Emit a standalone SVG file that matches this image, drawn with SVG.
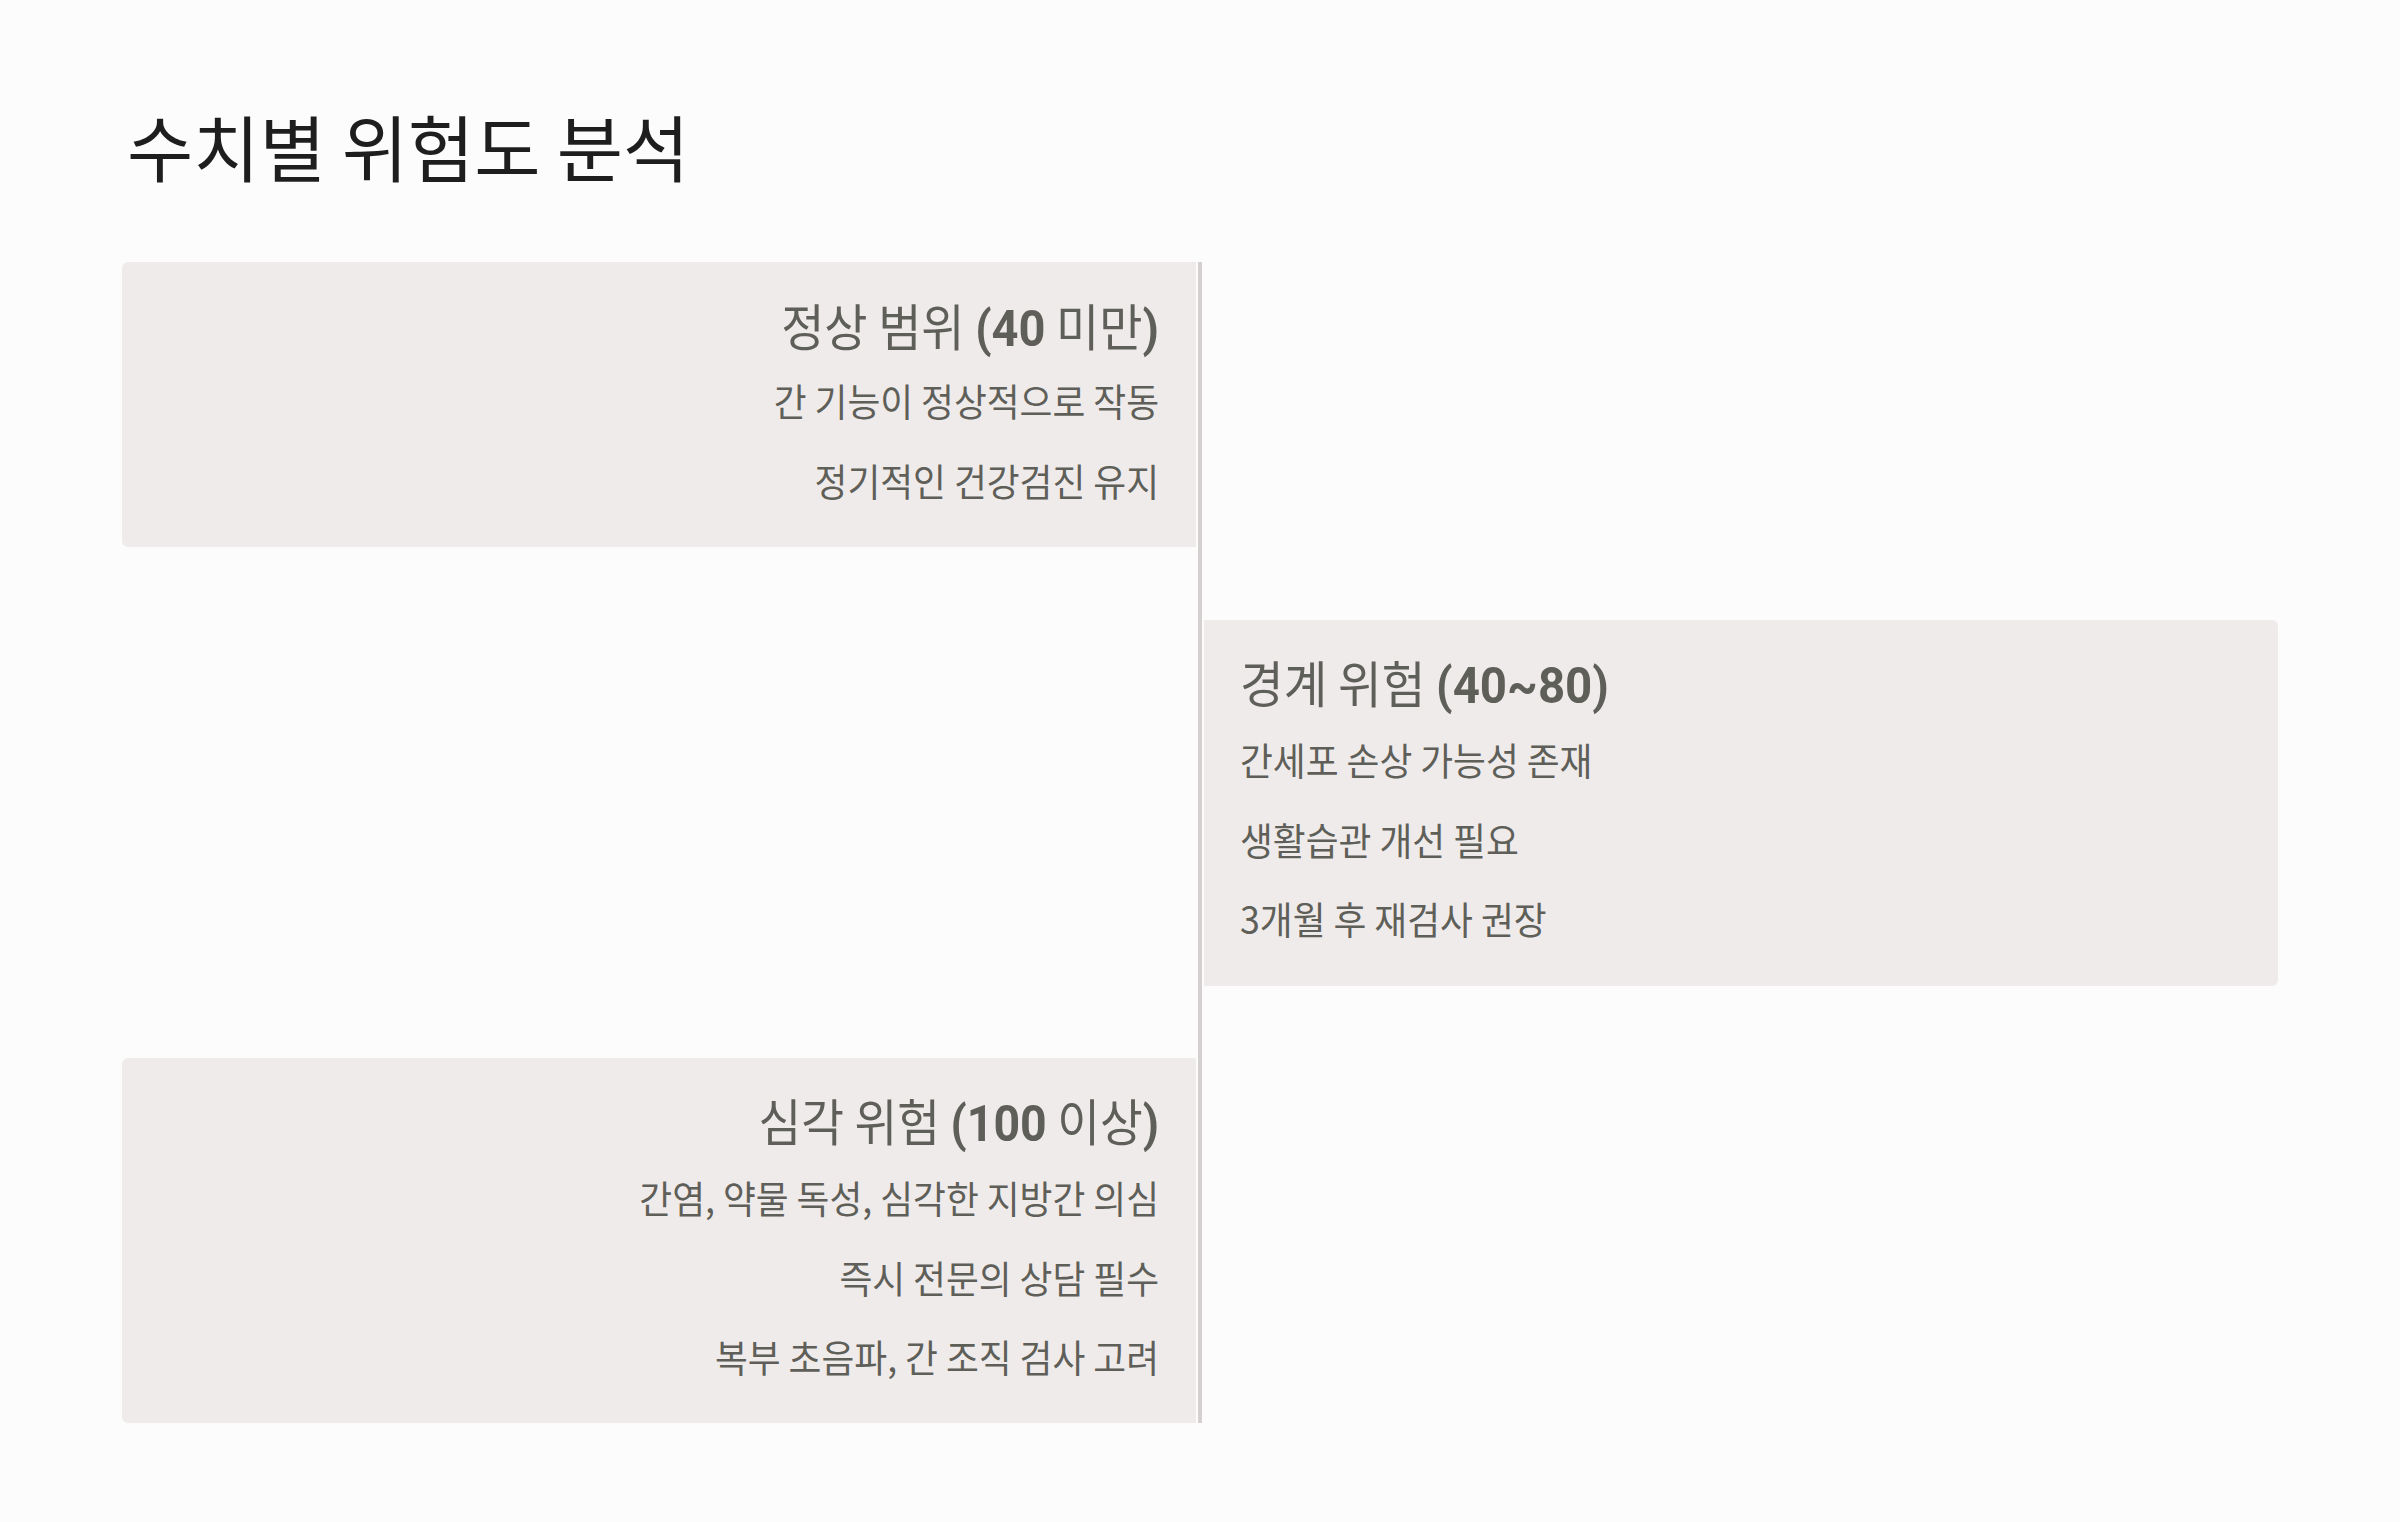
<svg xmlns="http://www.w3.org/2000/svg" width="2400" height="1522" viewBox="0 0 2400 1522">
<style>
.bg{fill:#fcfcfc}
.box{fill:#f0ebeb}
.line{fill:#d4d0d0}
.title{font-family:"Noto Sans CJK KR","Noto Sans",sans-serif;font-size:72px;fill:#1e1e1e}
.h{font-family:"Noto Sans CJK KR","Noto Sans",sans-serif;font-size:50px;fill:#5f5f59}
.num{font-family:Roboto,"Noto Sans CJK KR",sans-serif;font-weight:700}
.t{font-family:"Noto Sans CJK KR","Noto Sans",sans-serif;font-size:38px;fill:#5f5f59}
</style>
<rect class="bg" x="0" y="0" width="2400" height="1522"/>
<text class="title" x="127" y="176">수치별 위험도 분석</text>
<g id="connectors">
<rect class="line" x="1198" y="262" width="4" height="1161"/>
</g>
<g id="node-normal">
<path class="box" d="M128 262H1196V547H128A6 6 0 0 1 122 541V268A6 6 0 0 1 128 262Z"/>
<g transform="translate(1159,346) scale(0.94,1)"><text class="h" text-anchor="end">정상 범위 <tspan class="num">(40</tspan> 미만<tspan class="num">)</tspan></text></g>
<g transform="translate(1159,416) scale(0.94,1)"><text class="t" text-anchor="end">간 기능이 정상적으로 작동</text></g>
<g transform="translate(1159,496) scale(0.94,1)"><text class="t" text-anchor="end">정기적인 건강검진 유지</text></g>
</g>
<g id="node-warning">
<path class="box" d="M1204 620H2272A6 6 0 0 1 2278 626V980A6 6 0 0 1 2272 986H1204Z"/>
<g transform="translate(1240,703) scale(0.95,1)"><text class="h">경계 위험 <tspan class="num">(40~80)</tspan></text></g>
<g transform="translate(1240,775) scale(0.94,1)"><text class="t">간세포 손상 가능성 존재</text></g>
<g transform="translate(1240,855) scale(0.94,1)"><text class="t">생활습관 개선 필요</text></g>
<g transform="translate(1240,934) scale(0.94,1)"><text class="t">3개월 후 재검사 권장</text></g>
</g>
<g id="node-severe">
<path class="box" d="M128 1058H1196V1423H128A6 6 0 0 1 122 1417V1064A6 6 0 0 1 128 1058Z"/>
<g transform="translate(1159,1141) scale(0.93,1)"><text class="h" text-anchor="end">심각 위험 <tspan class="num">(100</tspan> 이상<tspan class="num">)</tspan></text></g>
<g transform="translate(1159,1213) scale(0.94,1)"><text class="t" text-anchor="end">간염, 약물 독성, 심각한 지방간 의심</text></g>
<g transform="translate(1159,1293) scale(0.94,1)"><text class="t" text-anchor="end">즉시 전문의 상담 필수</text></g>
<g transform="translate(1159,1372) scale(0.94,1)"><text class="t" text-anchor="end">복부 초음파, 간 조직 검사 고려</text></g>
</g>
</svg>
